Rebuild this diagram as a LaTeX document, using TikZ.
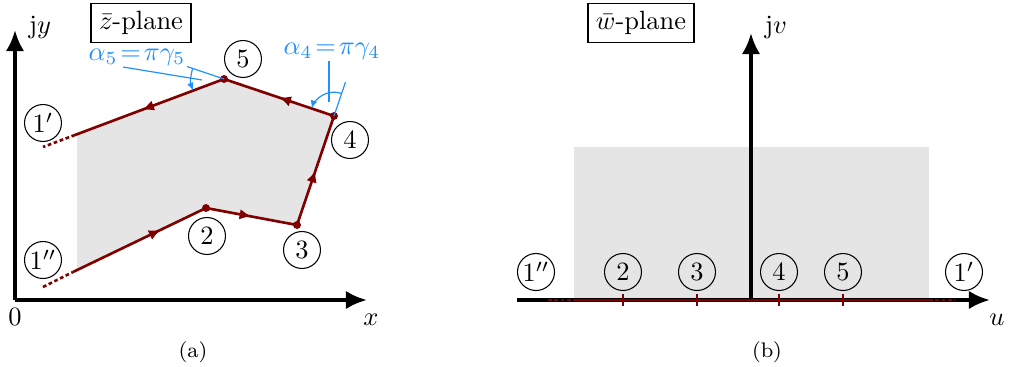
\documentclass[tikz,border=0pt]{standalone}
\usetikzlibrary{arrows.meta,decorations.markings,angles}
\definecolor{dred}{RGB}{128,0,0}
\definecolor{lblue}{RGB}{30,144,255}
\tikzset{
  axis/.style={line width=1.5pt,-{Latex[length=8pt,width=7pt]}},
  redline/.style={dred,line width=1pt},
  reddash/.style={dred,line width=1pt,dash pattern=on 1.4pt off 1pt},
  midarrow/.style={postaction={decorate},decoration={markings,mark=at position #1 with {\arrow{Latex[length=4.5pt,width=4pt]}}}},
  lbl/.style={circle,draw,line width=0.4pt,minimum size=14pt,inner sep=0.5pt},
  plane/.style={draw,line width=0.5pt,inner sep=3pt},
  vdot/.style={circle,fill=dred,inner sep=0pt,minimum size=3pt},
  ann/.style={lblue,line width=0.45pt},
  tick/.style={dred,line width=1pt}
}
\begin{document}
\begin{tikzpicture}[x=0.0133cm,y=-0.0133cm]
\useasboundingbox (0,0) rectangle (1010,366);
% ---------- (a) ----------
\coordinate (o) at (15,300);
\coordinate (ytip) at (15,30);
\coordinate (xtip) at (367,300);
\coordinate (e1pp) at (43,287);
\coordinate (s1pp) at (73,272);
\coordinate (p2) at (206,208);
\coordinate (p3) at (297,225);
\coordinate (p4) at (334,116);
\coordinate (p5) at (224,79);
\coordinate (s1p) at (75,135);
\coordinate (e1p) at (43,147);
\coordinate (e5) at (187,66.5);
\coordinate (e4) at (345.5,82);
\fill[black!10] (77,134.2) -- (p5) -- (p4) -- (p3) -- (p2) -- (77,270.1) -- cycle;
\draw[axis] (o) -- (ytip);
\draw[axis] (o) -- (xtip);
\node (ly) at (40,28) {j$y$};
\node (l0) at (15,317) {$0$};
\node (lx) at (371,320) {$x$};
\node (ca) at (193,352) {\footnotesize (a)};
\node[plane] (zp) at (141,23) {$\bar{z}$-plane};
\draw[reddash] (e1pp) -- (s1pp);
\draw[redline,midarrow=0.66] (s1pp) -- (p2);
\draw[redline,midarrow=0.5] (p2) -- (p3);
\draw[redline,midarrow=0.5] (p3) -- (p4);
\draw[redline,midarrow=0.5] (p4) -- (p5);
\draw[redline,midarrow=0.55] (p5) -- (s1p);
\draw[reddash] (s1p) -- (e1p);
\node[vdot] (d2) at (p2) {};
\node[vdot] (d3) at (p3) {};
\node[vdot] (d4) at (p4) {};
\node[vdot] (d5) at (p5) {};
\node[lbl] (a1pp) at (43,260) {$1''$};
\node[lbl] (a1p) at (43,123) {$1'$};
\node[lbl] (a2) at (207,236) {$2$};
\node[lbl] (a3) at (302,250) {$3$};
\node[lbl] (a4) at (350,140) {$4$};
\node[lbl] (a5) at (243,59) {$5$};
% angle annotations
\draw[ann] (p5) -- (e5);
\draw[ann] (p4) -- (e4);
\pic[ann,draw=lblue,-{Latex[length=3pt,width=2.5pt]},angle radius=12.5pt] {angle = e5--p5--s1p};
\pic[ann,draw=lblue,-{Latex[length=3pt,width=2.5pt]},angle radius=9pt] {angle = e4--p4--p5};
\node[text=lblue] (t5) at (137,57) {$\alpha_5\!=\!\pi\gamma_5$};
\node[text=lblue] (t4) at (332,51) {$\alpha_4\!=\!\pi\gamma_4$};
\coordinate (t5a) at (123,67);
\coordinate (t5b) at (202,80);
\coordinate (t4a) at (329,61);
\coordinate (t4b) at (329,102);
\draw[ann] (t5a) -- (t5b);
\draw[ann] (t4a) -- (t4b);
% ---------- (b) ----------
\fill[black!10] (574,147) rectangle (929,300);
\coordinate (us) at (517,300);
\coordinate (utip) at (990,300);
\coordinate (vo) at (751,300);
\coordinate (vtip) at (751,33);
\draw[axis] (vo) -- (vtip);
\draw[axis] (us) -- (utip);
\coordinate (r0) at (548,300);
\coordinate (r1) at (574,300);
\coordinate (r2) at (929,300);
\coordinate (r3) at (955,300);
\draw[reddash] (r0) -- (r1);
\draw[redline] (r1) -- (r2);
\draw[reddash] (r2) -- (r3);
\foreach \n/\xx in {2/623,3/697,4/779,5/843}{
  \coordinate (tk\n a) at (\xx,294);
  \coordinate (tk\n b) at (\xx,306);
  \draw[tick] (tk\n a) -- (tk\n b);
  \node[lbl] (b\n) at (\xx,272) {$\n$};
}
\node[lbl] (b1pp) at (536,272) {$1''$};
\node[lbl] (b1p) at (964,272) {$1'$};
\node (lv) at (776,28) {j$v$};
\node (lu) at (997,320) {$u$};
\node (cb) at (767,352) {\footnotesize (b)};
\node[plane] (wp) at (641,23) {$\bar{w}$-plane};
\end{tikzpicture}
\end{document}
